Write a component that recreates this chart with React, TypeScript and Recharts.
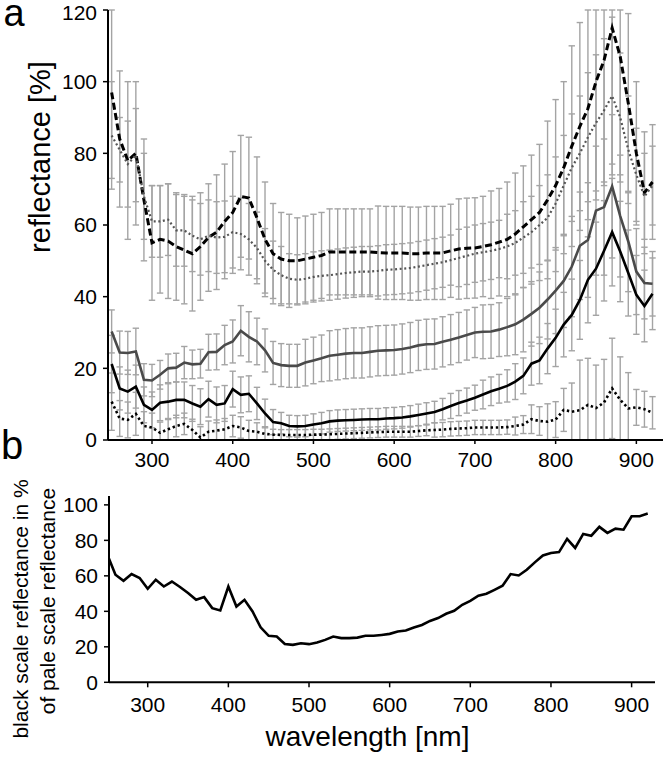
import React from "react";
import { LineChart, Line, XAxis, YAxis, ErrorBar, Label } from "recharts";

// wavelength grid, nm
const wavelengths = [
  250, 260, 270, 280, 290, 300, 310, 320, 330, 340, 350, 360, 370, 380, 390, 400, 410, 420, 430, 440,
  450, 460, 470, 480, 490, 500, 510, 520, 530, 540, 550, 560, 570, 580, 590, 600, 610, 620, 630, 640,
  650, 660, 670, 680, 690, 700, 710, 720, 730, 740, 750, 760, 770, 780, 790, 800, 810, 820, 830, 840,
  850, 860, 870, 880, 890, 900, 910, 920,
];

// panel a, reflectance [%]
const paleDashed = [
  97, 84, 78, 80, 67, 55, 56, 55.5, 54, 53, 52, 54, 56.5, 58, 61, 63.5, 68, 67.5, 62, 56,
  52, 50.5, 50, 50, 50.5, 51, 51.5, 52.5, 52.5, 52.5, 52.5, 52.5, 52.5, 52.3, 52.2, 52.2, 52.2, 52, 52, 52.2,
  52.2, 52.2, 52.8, 53.3, 53.5, 53.6, 54, 54.5, 55.2, 56, 57.5, 59.5, 61.5, 63.5, 67, 71, 76, 82, 87.5, 92.5,
  100, 106, 115, 107, 94, 80, 69, 72,
];
const paleDashedErr = [
  24, 19, 22, 20, 17, 16, 15, 16, 15, 15, 16, 15, 15, 16, 16, 17, 17, 17, 17, 16,
  14, 13, 13, 12, 12, 12, 12, 12, 12, 12, 12, 12, 12, 13, 13, 13, 13, 13, 13, 13,
  13, 13, 13, 14, 14, 14, 14, 15, 15, 16, 17, 17, 18, 19, 22, 24, 24, 28, 29, 31,
  33, 35, 38, 33, 25, 20, 17, 16,
];
const grayDotted = [
  85, 81, 77, 79.5, 68, 61, 61, 61.5, 58.5, 58.5, 57, 56, 57, 56.5, 56.7, 58, 57.5, 56, 53.6, 50,
  47.5, 46, 45, 44.7, 45, 45.5, 45.8, 46, 46.3, 46.6, 46.8, 47, 47, 47.2, 47.5, 47.6, 47.8, 48, 48.4, 48.8,
  49.2, 49.6, 50.2, 50.8, 51.4, 52, 52.4, 52.8, 53.3, 54, 55, 56.5, 58, 60, 62, 66, 71, 76, 80, 84.5,
  88.5, 92, 96, 90, 81, 74, 68, 71,
];
const grayDottedErr = [
  15, 9, 12, 13, 12, 10, 10, 10, 10, 10, 10, 10, 10, 10, 10, 10, 10, 10, 10, 9,
  8, 8, 7, 7, 7, 7, 7, 7, 7, 7, 7, 7, 7, 7, 7, 7, 7, 7, 7, 7,
  7, 7, 7, 8, 8, 8, 8, 8, 8, 9, 9, 10, 10, 11, 12, 13, 14, 15, 16, 18,
  19, 20, 22, 18, 15, 13, 12, 11,
];
const graySolid = [
  30.3, 24.4, 24.3, 24.7, 16.8, 16.6, 18.2, 20, 20.2, 21.6, 21.1, 21.3, 24.5, 24.6, 26.5, 27.5, 30.5, 28.8, 27.5, 25,
  21.5, 20.9, 20.7, 20.7, 21.6, 22.2, 22.8, 23.5, 23.8, 24.1, 24.3, 24.3, 24.6, 24.9, 25, 25.1, 25.4, 25.8, 26.4, 26.7,
  26.8, 27.4, 28, 28.6, 29.3, 30, 30.2, 30.3, 30.8, 31.5, 32.3, 33.6, 35.2, 36.9, 39.2, 41.7, 44.4, 48.4, 54.2, 55.8,
  64, 65, 70.8, 62.5, 55.4, 47, 43.8, 43.6,
];
const graySolidErr = [
  6, 6, 6, 6.5, 4.5, 4.5, 4, 4, 4, 4.5, 4, 4, 5, 5, 5.5, 6, 7, 7, 6.5, 6,
  6, 6, 6, 6, 6.5, 6.5, 6.5, 7, 7, 7, 7, 7, 7, 7, 7, 7, 7, 7, 7, 7,
  7, 7, 7, 7, 7, 7, 7.5, 7.5, 7.5, 8, 8.5, 9, 9, 10, 11, 12, 13, 14, 15, 16,
  18, 19, 20, 17, 14, 12, 10, 9,
];
const blackSolid = [
  21.2, 14.4, 13.5, 14.9, 9.8, 8.4, 10.4, 10.7, 11.2, 11.2, 10.2, 9.3, 11.4, 9.8, 10.2, 14.2, 12.6, 12.9, 10.2, 7.4,
  5, 4.7, 3.9, 3.8, 3.9, 4.3, 4.7, 5.2, 5.4, 5.5, 5.6, 5.7, 5.8, 5.8, 6, 6.1, 6.3, 6.6, 7, 7.4,
  7.8, 8.6, 9.5, 10.3, 11, 11.8, 12.7, 13.6, 14.3, 15.1, 16.3, 17.9, 21.3, 22.2, 25.5, 28.5, 32.2, 34.9, 39.1, 44.7,
  47.8, 52.8, 58, 52.6, 46.6, 40.5, 37.4, 40.8,
];
const blackSolidErr = [
  8, 6, 6, 6, 5, 5, 5, 5, 5, 5, 5, 5, 5, 5, 5, 5, 5, 5, 4.5, 4,
  3.5, 3, 3, 3, 3, 3, 3, 3, 3, 3, 3, 3, 3, 3, 3, 3, 3, 3, 3, 3,
  3, 3, 3.5, 3.5, 3.5, 3.5, 4, 4, 4, 4.5, 5, 5, 6, 6.5, 7, 8, 9, 10, 11, 12,
  13, 14, 15, 14, 12, 11, 10, 10,
];
const blackDotted = [
  10.7, 6, 5.6, 7.3, 3.9, 3.5, 2, 3, 3.9, 4.5, 2.8, 0.7, 2.3, 2.6, 3, 3.9, 3.5, 2.5, 2.3, 1.7,
  1.5, 1.4, 1.4, 1.4, 1.4, 1.5, 1.5, 1.6, 1.7, 1.8, 1.9, 2, 2.1, 2.2, 2.3, 2.3, 2.3, 2.3, 2.5, 2.7,
  2.8, 2.9, 3.1, 3.2, 3.3, 3.5, 3.5, 3.5, 3.5, 3.6, 3.9, 4.3, 5.8, 5.3, 5.1, 5.7, 8.4, 7.9, 8.3, 9.8,
  8.9, 10.5, 14.4, 11.2, 8.8, 9.1, 8.6, 7.6,
];
const blackDottedErr = [
  8, 5, 5, 6, 4, 4, 3, 3, 3, 3, 3, 3, 3, 3, 3, 3, 3, 3, 2.5, 2,
  1.5, 1.5, 1.5, 1.5, 1.5, 1.5, 1.5, 1.5, 1.5, 1.5, 1.5, 1.5, 1.5, 1.5, 1.5, 1.5, 1.5, 1.5, 1.5, 1.5,
  2, 2, 2, 2, 2, 2, 2, 2, 2, 2, 2.5, 2.5, 4, 4, 5, 5, 6, 8, 14, 13,
  12, 12, 14, 12, 10, 5, 5, 4.5,
];

// panel b, black / pale reflectance [%]
const ratio = [
  71.9, 60.6, 57.2, 61, 58.8, 52.7, 57.8, 54, 56.8, 53.7, 50.3, 46.5, 48, 41.8, 40.5, 54, 42.7, 46.5, 39.9, 31,
  26.2, 25.8, 21.6, 21.1, 22, 21.5, 22.4, 23.9, 25.8, 24.9, 24.9, 25.2, 26.2, 26.2, 26.7, 27.3, 28.6, 29.2, 30.9, 32.3,
  34.6, 36.2, 38.6, 40.3, 43.7, 45.9, 48.8, 49.9, 52.1, 54.4, 61, 60.2, 63.4, 67.6, 71.5, 72.9, 73.4, 80.8, 75.7, 83.6,
  82.6, 87.6, 84.2, 86.6, 86, 93.6, 93.6, 95.1,
];

const xTicks = [300, 400, 500, 600, 700, 800, 900];
const topYTicks = [0, 20, 40, 60, 80, 100, 120];
const bottomYTicks = [0, 20, 40, 60, 80, 100];

const TOP_MAX = 120;
const FONT = "'Liberation Sans', Arial, Helvetica, sans-serif";
const ERR_COLOR = "#a4a4a4";

// error bars are cut at the plot frame (0..120) like in the figure
const clipErr = (v: number, e: number) => [Math.min(e, v), Math.min(e, TOP_MAX - v)];

const topRows = wavelengths.map((nm, i) => ({
  nm,
  paleDashed: paleDashed[i],
  paleDashedErr: clipErr(paleDashed[i], paleDashedErr[i]),
  grayDotted: grayDotted[i],
  grayDottedErr: clipErr(grayDotted[i], grayDottedErr[i]),
  graySolid: graySolid[i],
  graySolidErr: clipErr(graySolid[i], graySolidErr[i]),
  blackSolid: blackSolid[i],
  blackSolidErr: clipErr(blackSolid[i], blackSolidErr[i]),
  blackDotted: blackDotted[i],
  blackDottedErr: clipErr(blackDotted[i], blackDottedErr[i]),
}));

const ratioRows = wavelengths.map((nm, i) => ({ nm, ratio: ratio[i] }));

const series = [
  { key: "paleDashed", color: "#000", width: 3, dash: "7 3.5" },
  { key: "grayDotted", color: "#555", width: 2.2, dash: "2 2.6" },
  { key: "graySolid", color: "#4a4a4a", width: 2.6, dash: undefined },
  { key: "blackSolid", color: "#000", width: 2.6, dash: undefined },
  { key: "blackDotted", color: "#000", width: 2.6, dash: "2.4 2.8" },
];

const tickStyle = { fill: "#000", fontSize: 21, fontFamily: FONT };
const axisLine = { stroke: "#000", strokeWidth: 2 };
const tickLine = { stroke: "#000", strokeWidth: 1.5 };

export default function App() {
  return (
    <div style={{ position: "absolute", left: 0, top: 0, width: 667, height: 757, background: "#fff" }}>
      <div style={{ position: "absolute", left: 0, top: 0 }}>
        <LineChart width={667} height={470} data={topRows} margin={{ top: 10, right: 4, bottom: 0, left: 0 }}>
          <XAxis
            dataKey="nm"
            type="number"
            domain={[245.5, 933]}
            ticks={xTicks}
            allowDataOverflow
            height={30}
            tickSize={4}
            tickMargin={8}
            axisLine={axisLine}
            tickLine={tickLine}
            tick={tickStyle}
          />
          <YAxis
            type="number"
            domain={[0, TOP_MAX]}
            ticks={topYTicks}
            allowDataOverflow
            width={108}
            tickSize={5}
            tickMargin={6}
            axisLine={axisLine}
            tickLine={tickLine}
            tick={tickStyle}
          >
            <Label
              content={() => (
                <g>
                  <text x={50} y={157} transform="rotate(-90, 50, 157)" textAnchor="middle" fontSize={29} fontFamily={FONT} fill="#000">
                    reflectance [%]
                  </text>
                  <text x={3.4} y={26} fontSize={38} fontFamily={FONT} fill="#000">a</text>
                  <text x={1} y={459} fontSize={40} fontFamily={FONT} fill="#000">b</text>
                </g>
              )}
            />
          </YAxis>
          {series.map((s) => (
            <Line
              key={`err-${s.key}`}
              dataKey={s.key}
              type="linear"
              stroke="none"
              dot={false}
              activeDot={false}
              legendType="none"
              isAnimationActive={false}
            >
              <ErrorBar dataKey={`${s.key}Err`} direction="y" width={3.2} stroke={ERR_COLOR} strokeWidth={1.4} isAnimationActive={false} />
            </Line>
          ))}
          {series.map((s) => (
            <Line
              key={s.key}
              dataKey={s.key}
              type="linear"
              stroke={s.color}
              strokeWidth={s.width}
              strokeDasharray={s.dash}
              dot={false}
              activeDot={false}
              isAnimationActive={false}
            />
          ))}
        </LineChart>
      </div>
      <div style={{ position: "absolute", left: 0, top: 480 }}>
        <LineChart width={667} height={277} data={ratioRows} margin={{ top: 16, right: 12, bottom: 44.7, left: 0 }}>
          <XAxis
            dataKey="nm"
            type="number"
            domain={[252, 929]}
            ticks={xTicks}
            allowDataOverflow
            height={30}
            tickSize={5}
            tickMargin={10}
            axisLine={axisLine}
            tickLine={tickLine}
            tick={tickStyle}
          >
            <Label
              content={() => (
                <text x={367.5} y={266} textAnchor="middle" fontSize={28} fontFamily={FONT} fill="#000">
                  wavelength [nm]
                </text>
              )}
            />
          </XAxis>
          <YAxis
            type="number"
            domain={[0, 105]}
            ticks={bottomYTicks}
            allowDataOverflow
            width={109}
            tickSize={5}
            tickMargin={6}
            axisLine={axisLine}
            tickLine={tickLine}
            tick={tickStyle}
          >
            <Label
              content={() => (
                <g fontSize={21} fontFamily={FONT} fill="#000">
                  <text x={28} y={129} transform="rotate(-90, 28, 129)" textAnchor="middle">
                    black scale reflectance in %
                  </text>
                  <text x={55} y={121} transform="rotate(-90, 55, 121)" textAnchor="middle">
                    of pale scale reflectance
                  </text>
                </g>
              )}
            />
          </YAxis>
          <Line
            dataKey="ratio"
            type="linear"
            stroke="#000"
            strokeWidth={2.6}
            dot={false}
            activeDot={false}
            isAnimationActive={false}
          />
        </LineChart>
      </div>
    </div>
  );
}
